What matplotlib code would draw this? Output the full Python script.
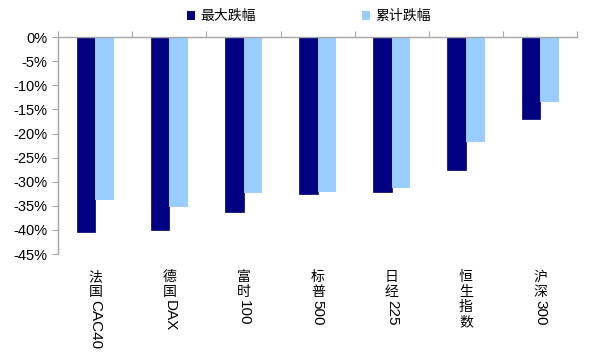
import matplotlib
matplotlib.use('Agg')
import matplotlib.pyplot as plt
from matplotlib.patches import Patch
import numpy as np

plt.rcParams['font.family'] = ['Liberation Sans', 'Noto Sans CJK SC', 'DejaVu Sans']

# ***** DATA *****
labels_cn = ['法国', '德国', '富时', '标普', '日经', '恒生指数', '沪深']
labels_en = ['CAC40', 'DAX', '100', '500', '225', '', '300']
max_drop = [-40.5, -40.0, -36.3, -32.6, -32.1, -27.6, -16.9]
total_drop = [-33.7, -35.2, -32.3, -32.1, -31.2, -21.7, -13.4]
series_names = ['最大跌幅', '累计跌幅']
yticks = [0, -5, -10, -15, -20, -25, -30, -35, -40, -45]

dark = '#000080'
light = '#99CCFF'
axis_gray = '#A6A6A6'

fig = plt.figure(figsize=(6, 3.64), dpi=100)
ax = fig.add_axes([0.097, 0.302, 0.865, 0.596])

x = np.arange(len(labels_cn))
w = 0.25
ax.bar(x - w / 2, max_drop, width=w, color=dark, edgecolor='#00006A', linewidth=0.5)
ax.bar(x + w / 2, total_drop, width=w, color=light, linewidth=0)

ax.set_xlim(-0.5, len(labels_cn) - 0.5)
ax.set_ylim(-45, 0)
ax.set_yticks(yticks)
ax.set_yticklabels([str(v) + '%' for v in yticks], fontsize=10.5)
ax.tick_params(axis='y', length=4, color=axis_gray, pad=4)

# category boundary ticks on the top (zero) line
ax.set_xticks(np.arange(-0.5, len(labels_cn), 1.0))
ax.xaxis.tick_top()
ax.tick_params(axis='x', length=4, color=axis_gray, labeltop=False, labelbottom=False)

for s in ['right', 'bottom']:
    ax.spines[s].set_visible(False)
for s in ['left', 'top']:
    ax.spines[s].set_color(axis_gray)
    ax.spines[s].set_linewidth(1.0)

# stacked vertical category labels: chinese upright, latin rotated
step = 10.8
start = 11.5
for i in range(len(labels_cn)):
    chars = labels_cn[i]
    for k in range(len(chars)):
        ax.annotate(chars[k], xy=(x[i], 0), xycoords=('data', 'axes fraction'),
                    xytext=(0, -start - k * step), textcoords='offset points',
                    ha='center', va='top', fontsize=10)
    if labels_en[i]:
        ax.annotate(labels_en[i], xy=(x[i], 0), xycoords=('data', 'axes fraction'),
                    xytext=(0, -start - len(chars) * step), textcoords='offset points',
                    ha='center', va='top', rotation=-90, fontsize=11)

handles = [Patch(facecolor=dark), Patch(facecolor=light)]
fig.legend(handles, series_names, loc='center', bbox_to_anchor=(0.515, 0.955), ncol=2,
           frameon=False, fontsize=10, handlelength=0.6, handleheight=0.6,
           handletextpad=0.4, columnspacing=7.6)

fig.savefig('out.png', dpi=100)
